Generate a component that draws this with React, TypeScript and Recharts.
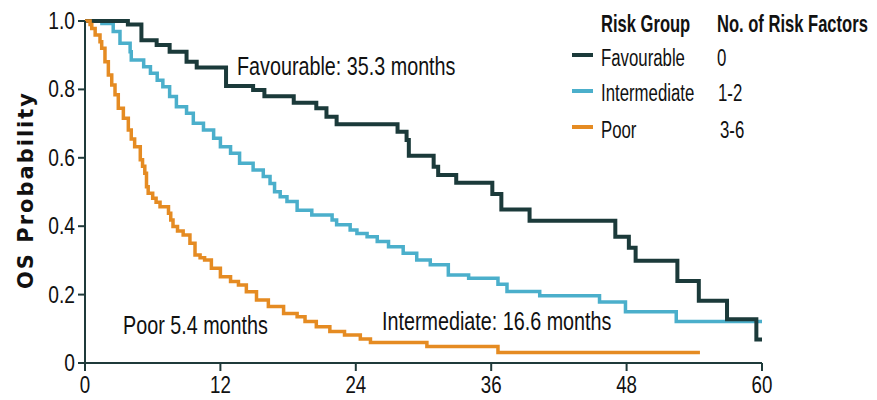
import React from 'react'
import { LineChart, Line, XAxis, YAxis } from 'recharts'

// x axis ticks (months) and y axis ticks (OS probability)
const monthTicks = [0, 12, 24, 36, 48, 60]
const probTicks = [0, 0.2, 0.4, 0.6, 0.8, 1.0]

// Favourable (0 risk factors)
const favTime = [0, 3.8, 5.0, 6.35, 7.5, 9.0, 9.9, 12.5, 14.9, 15.9, 18.5, 20.5, 21.4, 22.3, 27.7, 28.5, 28.7, 30.9, 31.3, 32.9, 36.1, 36.9, 39.4, 47.0, 48.2, 48.8, 52.5, 54.4, 56.9, 59.5, 60]
const favProb = [1.0, 0.99, 0.944, 0.93, 0.91, 0.881, 0.864, 0.81, 0.798, 0.78, 0.761, 0.745, 0.72, 0.698, 0.676, 0.652, 0.606, 0.574, 0.55, 0.527, 0.494, 0.449, 0.416, 0.369, 0.337, 0.299, 0.24, 0.182, 0.128, 0.069, 0.069]

// Intermediate (1-2 risk factors)
const intTime = [0, 1.5, 2.5, 3.1, 4.0, 4.1, 5.2, 5.8, 6.4, 6.9, 7.5, 8.1, 9.0, 9.6, 10.5, 11.4, 12.0, 12.9, 13.7, 14.9, 15.8, 16.4, 16.8, 17.3, 17.9, 18.8, 20.1, 21.9, 22.3, 23.5, 24.1, 25.0, 25.9, 26.9, 28.2, 29.4, 30.6, 32.2, 34.0, 36.6, 37.4, 40.3, 45.6, 47.9, 52.4, 60]
const intProb = [1.0, 0.993, 0.969, 0.935, 0.91, 0.886, 0.866, 0.847, 0.827, 0.808, 0.779, 0.749, 0.73, 0.701, 0.681, 0.657, 0.632, 0.613, 0.584, 0.564, 0.545, 0.525, 0.501, 0.486, 0.472, 0.447, 0.433, 0.418, 0.404, 0.389, 0.379, 0.369, 0.355, 0.34, 0.321, 0.301, 0.287, 0.257, 0.248, 0.23, 0.209, 0.197, 0.178, 0.15, 0.121, 0.121]

// Poor (3-6 risk factors)
const poorTime = [0, 0.45, 0.6, 0.9, 1.33, 1.48, 1.77, 2.07, 2.37, 2.66, 2.95, 3.4, 3.84, 4.1, 4.4, 4.9, 5.1, 5.3, 5.45, 5.6, 6.0, 6.3, 6.65, 7.4, 7.6, 7.8, 8.2, 8.7, 9.3, 9.75, 10.2, 10.6, 11.2, 12.0, 12.9, 13.6, 14.3, 15.2, 16.25, 17.6, 18.8, 19.5, 20.5, 21.7, 23.0, 24.4, 25.3, 30.3, 36.6, 54.5]
const poorProb = [1.0, 0.99, 0.978, 0.959, 0.939, 0.92, 0.881, 0.842, 0.813, 0.784, 0.745, 0.716, 0.681, 0.655, 0.632, 0.594, 0.575, 0.555, 0.515, 0.496, 0.482, 0.47, 0.457, 0.438, 0.418, 0.399, 0.386, 0.374, 0.35, 0.316, 0.308, 0.301, 0.277, 0.252, 0.238, 0.228, 0.208, 0.184, 0.165, 0.145, 0.135, 0.121, 0.106, 0.092, 0.082, 0.07, 0.06, 0.048, 0.031, 0.031]

const DARK = '#1b3a3a'
const BLUE = '#4bafcb'
const ORANGE = '#e58b22'
const AXIS = '#1f3a3a'
const FONT = '"Liberation Sans", Arial, sans-serif'

const toSeries = (t: number[], p: number[]) => t.map((m, i) => ({ month: m, prob: p[i] }))

const favData = toSeries(favTime, favProb)
const intData = toSeries(intTime, intProb)
const poorData = toSeries(poorTime, poorProb)

// narrow text: the original uses a condensed face
function Narrow({ x, y, size = 26, sx = 0.76, anchor = 'start', bold = false, children }: any) {
  return (
    <text
      transform={`translate(${x},${y}) scale(${sx},1)`}
      textAnchor={anchor}
      fontFamily={FONT}
      fontSize={size}
      fontWeight={bold ? 700 : 400}
      fill="#111"
    >
      {children}
    </text>
  )
}

const XTick = ({ x, y, payload }: any) => (
  <Narrow x={x} y={y + 20} size={24} sx={0.78} anchor="middle">{payload.value}</Narrow>
)

const YTick = ({ x, y, payload }: any) => (
  <Narrow x={x} y={y + 8} size={24} sx={0.8} anchor="end">
    {payload.value === 0 ? '0' : payload.value.toFixed(1)}
  </Narrow>
)

export default function App() {
  return (
    <div style={{ position: 'absolute', left: 0, top: 0, width: 877, height: 400, background: '#fff' }}>
      <LineChart width={877} height={400} margin={{ top: 21, right: 115, bottom: 0, left: 25 }}>
        <XAxis
          dataKey="month"
          type="number"
          domain={[0, 60]}
          ticks={monthTicks}
          allowDataOverflow
          height={37}
          tickSize={8}
          tickMargin={2}
          axisLine={{ stroke: AXIS, strokeWidth: 2 }}
          tickLine={{ stroke: AXIS, strokeWidth: 2 }}
          tick={<XTick />}
        />
        <YAxis
          type="number"
          domain={[0, 1]}
          ticks={probTicks}
          width={60}
          tickSize={7}
          tickMargin={3}
          axisLine={{ stroke: AXIS, strokeWidth: 2 }}
          tickLine={{ stroke: AXIS, strokeWidth: 2 }}
          tick={<YTick />}
        />
        <Line data={intData} dataKey="prob" type="stepAfter" stroke={BLUE} strokeWidth={3.5} dot={false} isAnimationActive={false} />
        <Line data={favData} dataKey="prob" type="stepAfter" stroke={DARK} strokeWidth={4} dot={false} isAnimationActive={false} />
        <Line data={poorData} dataKey="prob" type="stepAfter" stroke={ORANGE} strokeWidth={3.5} dot={false} isAnimationActive={false} />
      </LineChart>
      <svg width={877} height={400} style={{ position: 'absolute', left: 0, top: 0, pointerEvents: 'none' }}>
        <text
          transform="translate(33,190) rotate(-90)"
          textAnchor="middle"
          fontFamily='"DejaVu Sans", Verdana, sans-serif'
          fontWeight={700}
          fontSize={21}
          letterSpacing={2}
          fill="#111"
        >
          OS Probability
        </text>
        <Narrow x={237} y={75}>Favourable: 35.3 months</Narrow>
        <Narrow x={382} y={330}>Intermediate: 16.6 months</Narrow>
        <Narrow x={123} y={334}>Poor 5.4 months</Narrow>

        <Narrow x={601} y={32} size={23} sx={0.72} bold>Risk Group</Narrow>
        <Narrow x={717} y={32} size={23} sx={0.72} bold>No. of Risk Factors</Narrow>

        <line x1={572} x2={593} y1={55} y2={55} stroke={DARK} strokeWidth={4} />
        <Narrow x={601} y={66} size={23} sx={0.73}>Favourable</Narrow>
        <Narrow x={717} y={66} size={23} sx={0.73}>0</Narrow>

        <line x1={572} x2={593} y1={91} y2={91} stroke={BLUE} strokeWidth={4} />
        <Narrow x={601} y={101} size={23} sx={0.73}>Intermediate</Narrow>
        <Narrow x={718} y={101} size={23} sx={0.73}>1-2</Narrow>

        <line x1={572} x2={593} y1={127} y2={127} stroke={ORANGE} strokeWidth={4} />
        <Narrow x={601} y={138} size={23} sx={0.73}>Poor</Narrow>
        <Narrow x={720} y={138} size={23} sx={0.73}>3-6</Narrow>
      </svg>
    </div>
  )
}
